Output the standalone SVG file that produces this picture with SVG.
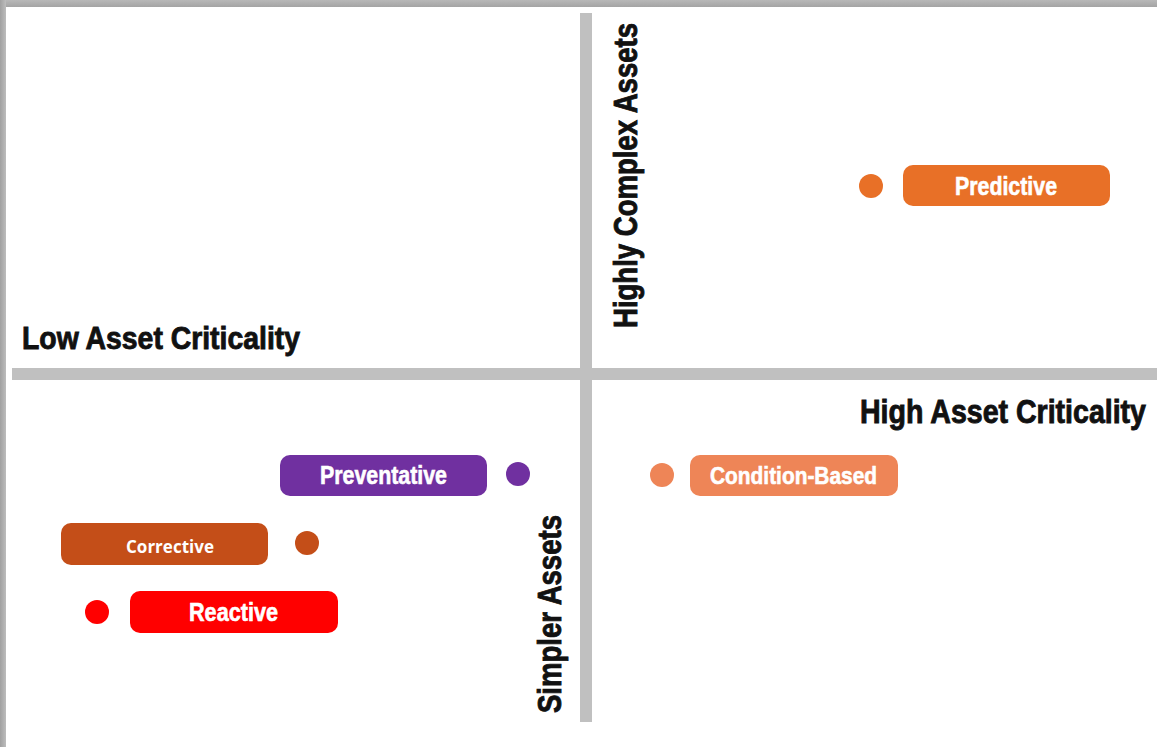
<svg xmlns="http://www.w3.org/2000/svg" width="1157" height="747" viewBox="0 0 1157 747">
  <defs>
    <linearGradient id="gTop" x1="0" y1="0" x2="0" y2="1">
      <stop offset="0" stop-color="#b8b8b8"/>
      <stop offset="1" stop-color="#a4a4a4"/>
    </linearGradient>
    <linearGradient id="gLeft" x1="0" y1="0" x2="1" y2="0">
      <stop offset="0" stop-color="#a0a0a0"/>
      <stop offset="1" stop-color="#bdbdbd"/>
    </linearGradient>
  </defs>
  <style>
    .axis { fill: #c0c0c0; }
    .lbl { font-family: "Liberation Sans Narrow", "Liberation Sans", Arial, sans-serif; font-weight: bold; fill: #111111; stroke: #111111; stroke-width: 0.9; }
    .pilltxt { font-family: "Liberation Sans Narrow", "Liberation Sans", Arial, sans-serif; font-weight: bold; fill: #ffffff; stroke: #ffffff; stroke-width: 0.6; text-anchor: middle; }
    .pilltxt2 { font-family: "Open Sans", "Liberation Sans", Arial, sans-serif; font-weight: bold; fill: #ffffff; text-anchor: middle; }
  </style>

  <rect width="1157" height="747" fill="#ffffff"/>
  <g id="frame">
    <rect x="0" y="0" width="1157" height="7" fill="url(#gTop)"/>
    <rect x="0" y="0" width="6" height="747" fill="url(#gLeft)"/>
  </g>

  <g id="axes">
    <rect class="axis" x="580" y="13" width="12" height="709"/>
    <rect class="axis" x="12" y="368" width="1145" height="12"/>
  </g>

  <g id="axis-labels">
    <text id="low-crit" class="lbl" x="22" y="349" font-size="32" textLength="278" lengthAdjust="spacingAndGlyphs">Low Asset Criticality</text>
    <text id="high-crit" class="lbl" x="860" y="423" font-size="33" textLength="286" lengthAdjust="spacingAndGlyphs">High Asset Criticality</text>
    <text id="complex" class="lbl" transform="translate(637,328) rotate(-90)" x="0" y="0" font-size="33" textLength="305" lengthAdjust="spacingAndGlyphs">Highly Complex Assets</text>
    <text id="simpler" class="lbl" transform="translate(561,713) rotate(-90)" x="0" y="0" font-size="33" textLength="198" lengthAdjust="spacingAndGlyphs">Simpler Assets</text>
  </g>

  <g id="predictive">
    <circle cx="871" cy="186" r="12" fill="#e87027"/>
    <rect x="903" y="165" width="207" height="41" rx="10" fill="#e87027"/>
    <text class="pilltxt" x="1006" y="195" font-size="25" textLength="102" lengthAdjust="spacingAndGlyphs">Predictive</text>
  </g>

  <g id="preventative">
    <rect x="280" y="455" width="207" height="41" rx="10" fill="#7030a0"/>
    <circle cx="518" cy="474" r="12" fill="#7030a0"/>
    <text class="pilltxt" x="383.5" y="484" font-size="25" textLength="127" lengthAdjust="spacingAndGlyphs">Preventative</text>
  </g>

  <g id="condition-based">
    <circle cx="662" cy="475" r="12" fill="#ee8557"/>
    <rect x="690" y="455" width="208" height="41" rx="10" fill="#ee8557"/>
    <text class="pilltxt" x="793.5" y="484" font-size="24" textLength="167" lengthAdjust="spacingAndGlyphs">Condition-Based</text>
  </g>

  <g id="corrective">
    <rect x="61" y="523" width="207" height="42" rx="10" fill="#c44e18"/>
    <circle cx="307" cy="543" r="12" fill="#c44e18"/>
    <text class="pilltxt2" x="170" y="553" font-size="17" textLength="88" lengthAdjust="spacingAndGlyphs">Corrective</text>
  </g>

  <g id="reactive">
    <circle cx="97" cy="612" r="12" fill="#ff0000"/>
    <rect x="130" y="591" width="208" height="42" rx="10" fill="#ff0000"/>
    <text class="pilltxt" x="233.5" y="621" font-size="25" textLength="89" lengthAdjust="spacingAndGlyphs">Reactive</text>
  </g>
</svg>
